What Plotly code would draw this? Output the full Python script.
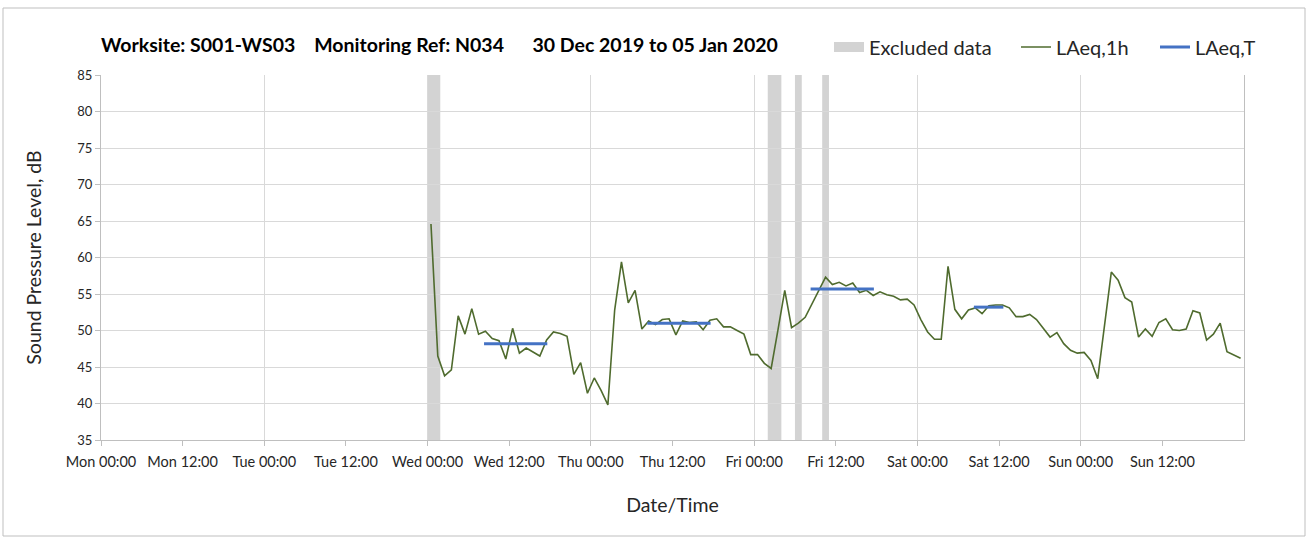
import pandas as pd
import plotly.graph_objects as go

# ---------------- data ----------------
# hourly LAeq,1h values, first reading Wed 01 Jan 2020 00:30, hourly to Sun 05 Jan 23:30
laeq_1h_start = "2020-01-01 00:30"
laeq_1h = [
    64.6, 46.5, 43.8, 44.6, 52.0, 49.5, 53.0, 49.5, 49.9, 48.9, 48.6, 46.1,
    50.3, 46.9, 47.6, 47.0, 46.5, 48.7, 49.8, 49.6, 49.2, 44.0, 45.6, 41.4,
    43.5, 41.8, 39.8, 52.8, 59.4, 53.8, 55.5, 50.2, 51.3, 50.8, 51.5, 51.6,
    49.4, 51.3, 51.1, 51.2, 50.1, 51.4, 51.6, 50.5, 50.5, 50.0, 49.5, 46.7,
    46.7, 45.5, 44.8, 50.1, 55.5, 50.4, 51.0, 51.8, 53.7, 55.6, 57.3, 56.3,
    56.6, 56.1, 56.5, 55.2, 55.5, 54.8, 55.3, 54.9, 54.7, 54.2, 54.3, 53.5,
    51.5, 49.8, 48.8, 48.8, 58.8, 52.9, 51.6, 52.8, 53.1, 52.3, 53.4, 53.5,
    53.5, 53.1, 51.9, 51.9, 52.2, 51.5, 50.3, 49.1, 49.7, 48.2, 47.3, 46.9,
    47.0, 45.9, 43.4, 50.7, 58.0, 56.9, 54.5, 53.9, 49.1, 50.2, 49.2, 51.1,
    51.6, 50.1, 50.0, 50.2, 52.7, 52.4, 48.7, 49.5, 51.0, 47.1, 46.6, 46.2,
]
laeq_1h_times = pd.date_range(laeq_1h_start, periods=len(laeq_1h), freq="h")

# LAeq,T periods
laeq_t_start = ["2020-01-01 08:18", "2020-01-02 08:18", "2020-01-03 08:18", "2020-01-04 08:18"]
laeq_t_end = ["2020-01-01 17:36", "2020-01-02 17:36", "2020-01-03 17:36", "2020-01-04 12:38"]
laeq_t = [48.2, 51.0, 55.7, 53.2]

# excluded data periods
excluded_start = ["2020-01-01 00:00", "2020-01-03 02:00", "2020-01-03 06:00", "2020-01-03 10:00"]
excluded_end = ["2020-01-01 01:52", "2020-01-03 04:00", "2020-01-03 07:00", "2020-01-03 11:00"]

# axis ticks
tick_vals = ["2019-12-30 00:00", "2019-12-30 12:00", "2019-12-31 00:00", "2019-12-31 12:00",
             "2020-01-01 00:00", "2020-01-01 12:00", "2020-01-02 00:00", "2020-01-02 12:00",
             "2020-01-03 00:00", "2020-01-03 12:00", "2020-01-04 00:00", "2020-01-04 12:00",
             "2020-01-05 00:00", "2020-01-05 12:00"]
tick_text = ["Mon 00:00", "Mon 12:00", "Tue 00:00", "Tue 12:00", "Wed 00:00", "Wed 12:00",
             "Thu 00:00", "Thu 12:00", "Fri 00:00", "Fri 12:00", "Sat 00:00", "Sat 12:00",
             "Sun 00:00", "Sun 12:00"]
x_range = ["2019-12-30 00:00", "2020-01-06 00:00"]
y_range = [35, 85]

title_text = ("<b>Worksite: S001-WS03&nbsp;&nbsp;&nbsp; Monitoring Ref: N034"
              "&nbsp;&nbsp;&nbsp;&nbsp;&nbsp; 30 Dec 2019 to 05 Jan 2020</b>")

# ---------------- figure ----------------
FONT = "Lato"
GREEN = "#4F6B2E"
BLUE = "#4472C4"
GREY = "#D3D3D3"
GRID = "#D9D9D9"
TXT = "#262626"

L, R, T, B = 101, 65, 75, 98
W, H = 1309, 538
pw, ph = W - L - R, H - T - B

def px_x(px):
    return (px - L) / pw

def px_y(py):
    return (H - B - py) / ph

fig = go.Figure()

# excluded data (legend entry only; bands drawn as shapes)
fig.add_trace(go.Scatter(
    x=[None], y=[None], mode="lines", name="Excluded data",
    line=dict(color=GREY, width=10), legend="legend", hoverinfo="skip"))

fig.add_trace(go.Scatter(
    x=laeq_1h_times, y=laeq_1h, mode="lines", name="LAeq,1h",
    line=dict(color=GREEN, width=1.6), legend="legend2"))

lx, ly = [], []
for s, e, v in zip(laeq_t_start, laeq_t_end, laeq_t):
    lx += [s, e, None]
    ly += [v, v, None]
fig.add_trace(go.Scatter(
    x=lx, y=ly, mode="lines", name="LAeq,T",
    line=dict(color=BLUE, width=3), legend="legend3"))

for s, e in zip(excluded_start, excluded_end):
    fig.add_shape(type="rect", xref="x", yref="y", x0=s, x1=e,
                  y0=y_range[0], y1=y_range[1], fillcolor=GREY,
                  line=dict(width=0), layer="below")

# outer frame
fig.add_shape(type="rect", xref="paper", yref="paper",
              x0=px_x(3), x1=px_x(1305), y0=px_y(536), y1=px_y(8),
              line=dict(color="#BFBFBF", width=1), fillcolor="rgba(0,0,0,0)")

legend_common = dict(orientation="h", xanchor="left", yanchor="middle",
                     y=px_y(47), itemwidth=30, bgcolor="rgba(0,0,0,0)",
                     font=dict(family=FONT, size=20, color=TXT),
                     itemclick=False, itemdoubleclick=False)

fig.update_layout(
    width=W, height=H,
    margin=dict(l=L, r=R, t=T, b=B, autoexpand=False),
    paper_bgcolor="white", plot_bgcolor="white",
    font=dict(family=FONT, color=TXT),
    title=dict(text=title_text, x=px_x(101), xref="paper", xanchor="left",
               y=1 - 45 / H, yref="container", yanchor="middle",
               font=dict(family=FONT, size=19.5, color="black")),
    legend=dict(x=px_x(829), **legend_common),
    legend2=dict(x=px_x(1016), **legend_common),
    legend3=dict(x=px_x(1155), **legend_common),
    xaxis=dict(
        type="date", range=x_range,
        tickmode="array", tickvals=tick_vals, ticktext=tick_text,
        showgrid=False,
        minor=dict(dtick=24 * 3600 * 1000, tick0="2019-12-30 00:00",
                   showgrid=True, gridcolor=GRID, gridwidth=1, ticks=""),
        ticks="outside", ticklen=5, tickcolor="#BFBFBF",
        ticklabelstandoff=4,
        showline=True, linecolor="#BFBFBF", linewidth=1, mirror=False,
        tickfont=dict(family=FONT, size=14.5, color=TXT),
        title=dict(text="Date/Time", standoff=28,
                   font=dict(family=FONT, size=19.5, color=TXT)),
        zeroline=False,
    ),
    yaxis=dict(
        range=y_range, dtick=5, tick0=35,
        showgrid=True, gridcolor=GRID, gridwidth=1,
        ticks="outside", ticklen=5, tickcolor="#BFBFBF",
        showline=True, linecolor="#BFBFBF", linewidth=1, mirror=True,
        tickfont=dict(family=FONT, size=13, color=TXT),
        title=dict(text="Sound Pressure Level, dB", standoff=30,
                   font=dict(family=FONT, size=19.5, color=TXT)),
        zeroline=False,
    ),
    showlegend=True,
)

fig.write_html("out.html", config={"displayModeBar": False},
               post_script="document.body.style.margin='0';document.body.style.padding='0';")
